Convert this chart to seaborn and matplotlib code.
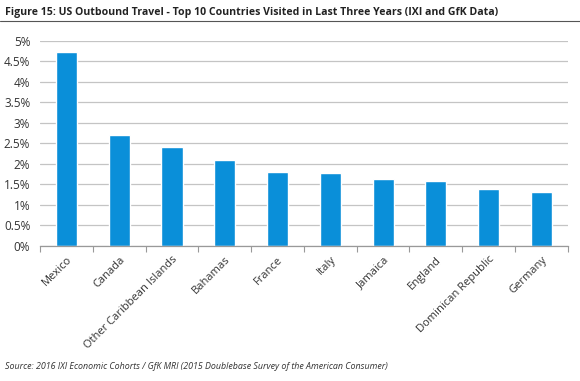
"""
Figure 15 : US Outbound Travel - Top 10 des pays visites (IXI et GfK).
"""

import matplotlib
matplotlib.use("Agg")
import matplotlib.pyplot as plt
import pandas as pd
import seaborn as sns
from matplotlib.ticker import FuncFormatter

# Donnees
pays = ["Mexico", "Canada", "Other Caribbean Islands", "Bahamas", "France",
        "Italy", "Jamaica", "England", "Dominican Republic", "Germany"]
part_voyageurs = [4.73, 2.70, 2.41, 2.09, 1.80, 1.77, 1.62, 1.59, 1.39, 1.30]
ticks_y = [0, 0.5, 1, 1.5, 2, 2.5, 3, 3.5, 4, 4.5, 5]

BLEU = "#0a8fd9"
GRIS = "#c4c4c4"
TEXTE = "#333333"


def pourcent(v, pos):
    return f"{v:g}%"


def main():
    df = pd.DataFrame({"pays": pays, "part": part_voyageurs})

    sns.set_style("white")
    plt.rcParams["font.family"] = ["Open Sans", "DejaVu Sans"]

    fig = plt.figure(figsize=(5.8, 3.81), dpi=100)
    ax = fig.add_axes([0.069, 0.355, 0.91, 0.538])

    sns.barplot(data=df, x="pays", y="part", color=BLEU, width=0.4,
                saturation=1, ax=ax)

    ax.set_ylim(0, 5)
    ax.set_xlim(-0.5, 9.5)
    ax.set_yticks(ticks_y)
    ax.yaxis.set_major_formatter(FuncFormatter(pourcent))
    ax.grid(axis="y", color=GRIS, linewidth=0.9)
    ax.set_axisbelow(True)
    for s in ["top", "right", "left"]:
        ax.spines[s].set_visible(False)
    ax.spines["bottom"].set_color("#999999")
    ax.spines["bottom"].set_linewidth(0.9)

    # graduations entre les categories
    ax.set_xticks([i + 0.5 for i in range(-1, 10)], minor=True)
    ax.tick_params(axis="x", which="minor", length=4, color="#999999",
                   width=0.8, bottom=True)
    ax.tick_params(axis="x", which="major", length=0, pad=6)
    ax.tick_params(axis="y", length=0, pad=7)
    ax.set_xticks(range(len(pays)))
    ax.set_xticklabels(pays, rotation=45, ha="right", rotation_mode="anchor",
                       fontsize=8, color=TEXTE)
    for lab in ax.get_yticklabels():
        lab.set_fontsize(8.5)
        lab.set_color(TEXTE)
    ax.set_xlabel("")
    ax.set_ylabel("")

    fig.text(0.008, 0.968,
             "Figure 15: US Outbound Travel - Top 10 Countries Visited in Last Three Years (IXI and GfK Data)",
             fontsize=7.6, fontweight="bold", color="#222222", va="center",
             stretch="condensed")
    fig.add_artist(plt.Line2D([0, 1], [0.945, 0.945], color="#555555",
                              linewidth=0.8, transform=fig.transFigure))
    fig.text(0.008, 0.037,
             "Source: 2016 IXI Economic Cohorts / GfK MRI (2015 Doublebase Survey of the American Consumer)",
             fontsize=6.4, style="italic", color="#333333", va="center")

    fig.savefig("out.png", dpi=100, facecolor="white")
    plt.close(fig)


if __name__ == "__main__":
    main()
